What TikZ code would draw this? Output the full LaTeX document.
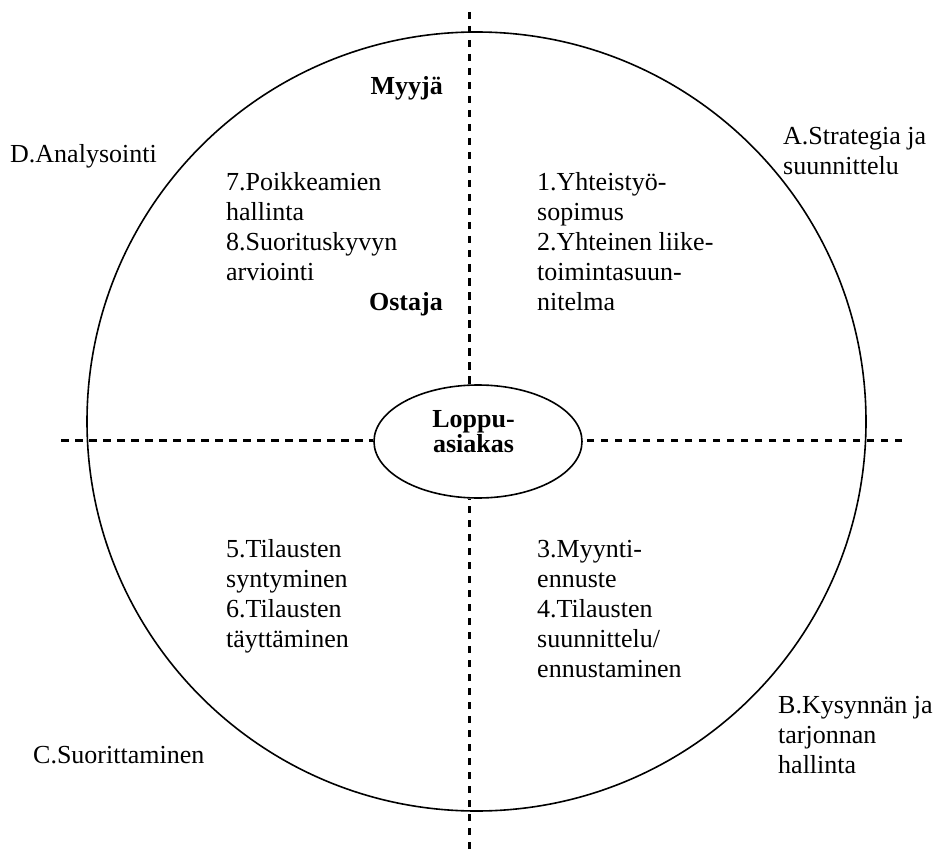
\documentclass[tikz,border=0pt]{standalone}
\usepackage{fontspec}
\setmainfont{Liberation Serif}
\usetikzlibrary{shapes.geometric}
\begin{document}
% multi-line nodes are placed by the baseline of their last line
\begin{tikzpicture}[x=1pt,y=-1pt,
  txt/.style={inner sep=0pt, align=left, anchor=base west,
    font=\fontsize{26}{30}\selectfont},
  role/.style={inner sep=0pt, anchor=base east,
    font=\fontsize{26}{30}\selectfont\bfseries},
  axis/.style={line width=3pt, dash pattern=on 7.5pt off 6.5pt},
  ring/.style={line width=1.6pt}]
\useasboundingbox (0,0) rectangle (939,850);

% outer cycle
\draw[ring] (476.5,421.5) circle[radius=389.5];

% end customer in the middle
\node[draw, ellipse, line width=1.6pt, minimum width=208pt,
  minimum height=113pt, inner sep=0pt] (core) at (478,441.5) {};
\node[inner sep=0pt, anchor=base, align=center,
  font=\fontsize{26}{25}\selectfont\bfseries] (coretext)
  at (473.5,452) {Loppu-\\asiakas};

% dashed axes, interrupted by the ellipse
\coordinate (vtop) at (469,12);
\coordinate (vbot) at (469,849);
\coordinate (hl) at (61,440);
\coordinate (hr) at (902,440);
\draw[axis] (vtop) -- (vtop |- core.north);
\draw[axis] (vbot) -- (vbot |- core.south);
\draw[axis] (hl) -- (hl -| core.west);
\draw[axis] (hr) -- (hr -| core.east);

% roles
\node[role] (seller) at (443,95) {Myyjä};
\node[role] (buyer) at (443,310) {Ostaja};

% phase labels outside the circle
\node[txt] (phaseA) at (783,175) {A.Strategia ja\\suunnittelu};
\node[txt] (phaseB) at (778,773) {B.Kysynnän ja\\tarjonnan\\hallinta};
\node[txt] (phaseC) at (33,763) {C.Suorittaminen};
\node[txt] (phaseD) at (10,163) {D.Analysointi};

% steps inside the quadrants
\node[txt] (steps12) at (537,310)
  {1.Yhteistyö-\\sopimus\\2.Yhteinen liike-\\toimintasuun-\\nitelma};
\node[txt] (steps34) at (537,677)
  {3.Myynti-\\ennuste\\4.Tilausten\\suunnittelu/\\ennustaminen};
\node[txt] (steps56) at (226,647)
  {5.Tilausten\\syntyminen\\6.Tilausten\\täyttäminen};
\node[txt] (steps78) at (226,280)
  {7.Poikkeamien\\hallinta\\8.Suorituskyvyn\\arviointi};
\end{tikzpicture}
\end{document}
